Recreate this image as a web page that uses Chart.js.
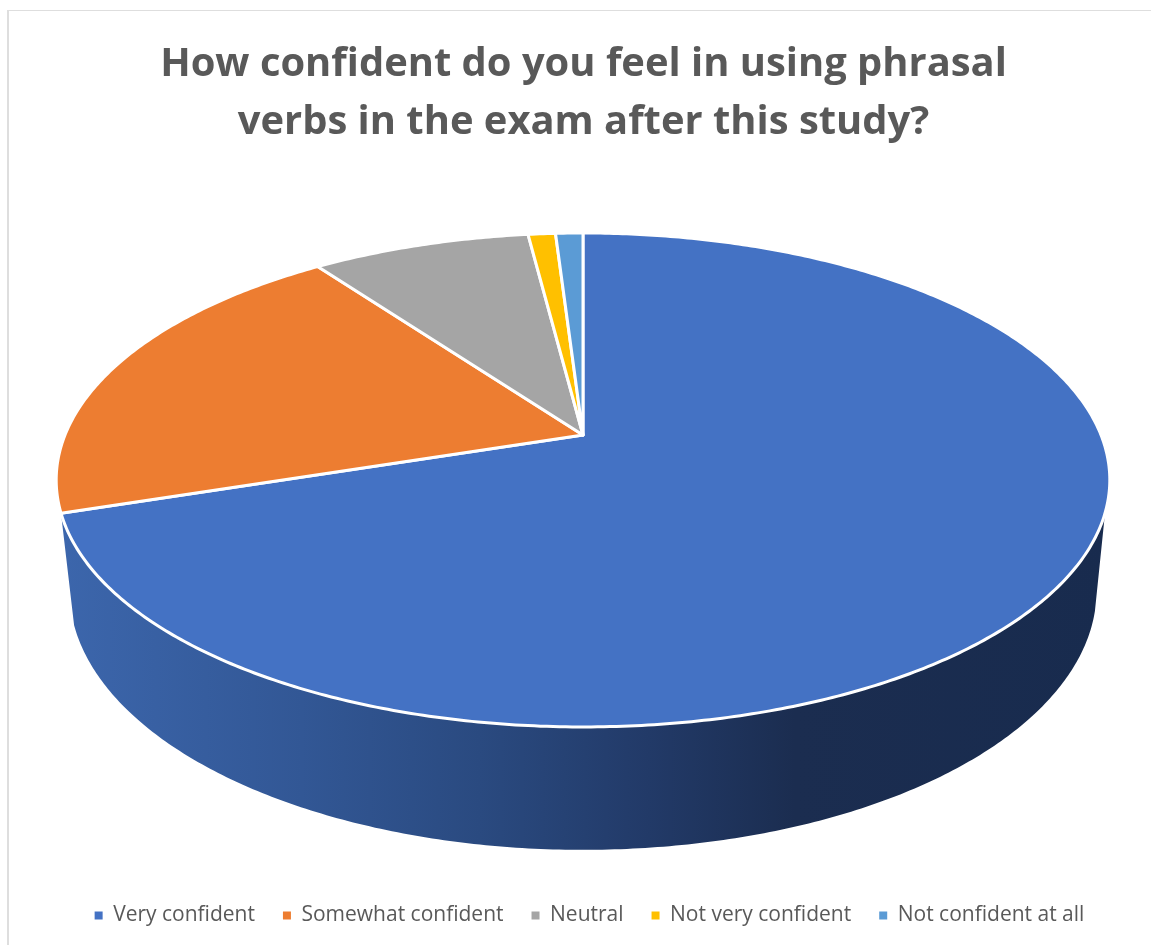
<!DOCTYPE html>
<html>
<head>
<meta charset="utf-8">
<title>Confidence pie</title>
<script src="https://cdn.jsdelivr.net/npm/chart.js@4"></script>
<style>
  html, body { margin: 0; padding: 0; background: #fff; }
  #frame { position: absolute; left: 7px; top: 10px; width: 1144px; height: 935px;
           border-left: 2px solid #dedede; border-top: 1px solid #dedede; box-sizing: border-box; }
  #myChart { position: absolute; left: 0; top: 0; }
</style>
</head>
<body>
<div id="frame"></div>
<canvas id="myChart" width="1151" height="945"></canvas>
<script>
const labels = ["Very confident", "Somewhat confident", "Neutral", "Not very confident", "Not confident at all"];
const values = [70, 20, 8, 1, 1];
const colors = ["#4472C4", "#ED7D31", "#A5A5A5", "#FFC000", "#5B9BD5"];
const titleLines = ["How confident do you feel in using phrasal", "verbs in the exam after this study?"];

// the top disc and the bottom rim, seen in perspective
const topDisc = { x: 583, y: 435, a: 518, b: 238.8, k: 0.182 };
const lowDisc = { x: 583, y: 543, a: 505, b: 251, k: 0.182 };
const wallStartTop = 18 * Math.PI / 180; // where the right silhouette begins
const wallStartLow = 15 * Math.PI / 180;

function project(disc, angle) {
  const u = Math.cos(angle), v = Math.sin(angle);
  const w = 1 - disc.k * v;
  return [disc.x + disc.a * u / w, disc.y + disc.b * v / w];
}

function traceRim(ctx, disc, from, to) {
  const steps = Math.max(2, Math.ceil(Math.abs(to - from) / 0.01));
  for (let i = 0; i <= steps; i++) {
    const p = project(disc, from + (to - from) * i / steps);
    ctx.lineTo(p[0], p[1]);
  }
}

const perspectivePie = {
  id: "perspectivePie",
  afterLayout(chart) {
    // legend sits a little right of the title in the original
    chart.legend.left += 12;
  },
  beforeDatasetDraw(chart) {
    const ctx = chart.ctx;
    const arcs = chart.getDatasetMeta(0).data;

    // side wall of the slices facing the viewer
    const grad = ctx.createLinearGradient(60, 0, 1110, 0);
    grad.addColorStop(0, "#3C66AC");
    grad.addColorStop(0.23, "#325795");
    grad.addColorStop(0.4, "#2A4A80");
    grad.addColorStop(0.56, "#223A68");
    grad.addColorStop(0.7, "#1B2D50");
    grad.addColorStop(1, "#182B4E");
    const first = arcs[0];
    ctx.save();
    ctx.beginPath();
    traceRim(ctx, topDisc, wallStartTop, first.endAngle);
    traceRim(ctx, lowDisc, first.endAngle, wallStartLow);
    ctx.closePath();
    ctx.fillStyle = grad;
    ctx.fill();

    // top faces
    arcs.forEach((arc) => {
      ctx.beginPath();
      ctx.moveTo(topDisc.x, topDisc.y);
      traceRim(ctx, topDisc, arc.startAngle, arc.endAngle);
      ctx.closePath();
      ctx.fillStyle = arc.options.backgroundColor;
      ctx.strokeStyle = arc.options.borderColor;
      ctx.lineWidth = arc.options.borderWidth;
      ctx.lineJoin = "round";
      ctx.fill();
      ctx.stroke();
    });
    ctx.restore();
    return false;
  },
};

const config = {
  type: "pie",
  data: {
    labels: labels,
    datasets: [{
      data: values,
      backgroundColor: colors,
      borderColor: "#FFFFFF",
      borderWidth: 3,
    }],
  },
  options: {
    responsive: false,
    animation: false,
    layout: { padding: { left: 16, right: 0, top: 26, bottom: 9 } },
    plugins: {
      title: {
        display: true,
        text: titleLines,
        color: "#595959",
        font: { family: "'Open Sans'", size: 39.9, weight: "bold", lineHeight: 1.45 },
      },
      legend: {
        position: "bottom",
        labels: {
          boxWidth: 8,
          boxHeight: 8,
          padding: 28,
          color: "#595959",
          font: { family: "'Open Sans'", size: 21 },
          generateLabels(chart) {
            const items = Chart.overrides.pie.plugins.legend.labels.generateLabels(chart);
            items.forEach((item) => { item.lineWidth = 0; });
            return items;
          },
        },
      },
      tooltip: { enabled: false },
    },
  },
  plugins: [perspectivePie],
};

const myChart = new Chart(document.getElementById("myChart"), config);
</script>
</body>
</html>
